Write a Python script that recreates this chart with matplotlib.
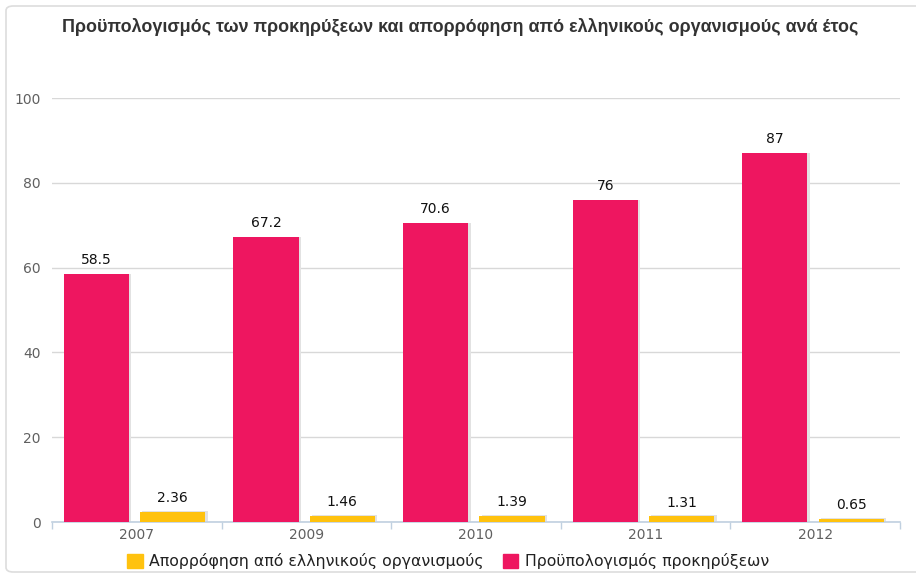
import numpy as np
import matplotlib.pyplot as plt
from matplotlib.patches import FancyBboxPatch

# ── data ──────────────────────────────────────────────
years = ['2007', '2009', '2010', '2011', '2012']
budget = [58.5, 67.2, 70.6, 76, 87]            # Προϋπολογισμός προκηρύξεων
absorption = [2.36, 1.46, 1.39, 1.31, 0.65]    # Απορρόφηση από ελληνικούς οργανισμούς
yticks = [0, 20, 40, 60, 80, 100]

PINK = '#EE1660'
YELLOW = '#FFC20E'
GRID = '#D8D8D8'
AXIS = '#C0D0E0'
TICKC = '#606060'

fig = plt.figure(figsize=(9.16, 5.74), dpi=100)
fig.patch.set_facecolor('white')

# outer rounded frame
frame = FancyBboxPatch((6 / 916, 2 / 574), 940 / 916, 566 / 574,
                       boxstyle='round,pad=0,rounding_size=0.008',
                       transform=fig.transFigure, facecolor='none',
                       edgecolor='#DDDDDD', lw=1.2)
fig.patches.append(frame)

ax = fig.add_axes([52 / 916, 52 / 574, 848 / 916, 424 / 574])
x = np.arange(len(years))
w = 0.385
off_p, off_y = -0.238, 0.212
sh = 0.014

# shadows
ax.bar(x + off_p + sh, budget, w, color='#E2E2E2', zorder=2)
ax.bar(x + off_y + sh, [v + 0.25 for v in absorption], w, color='#E2E2E2', zorder=2)

ax.bar(x + off_p, budget, w, color=PINK, zorder=3)
ax.bar(x + off_y, absorption, w, color=YELLOW, zorder=3)

for xi, v in zip(x, budget):
    ax.text(xi + off_p, v + 1.6, f'{v:g}', ha='center', va='bottom',
            fontsize=10, color='#111111')
for xi, v in zip(x, absorption):
    ax.text(xi + off_y, v + 1.6, f'{v:g}', ha='center', va='bottom',
            fontsize=10, color='#111111')

ax.set_xlim(-0.5, len(years) - 0.5)
ax.set_ylim(0, 100)
ax.set_yticks(yticks)
ax.set_yticklabels([str(t) for t in yticks], color=TICKC, fontsize=10)
ax.tick_params(axis='y', length=0, pad=8)
ax.grid(axis='y', color=GRID, lw=1, zorder=0)
ax.set_axisbelow(True)

ax.set_xticks(x)
ax.set_xticklabels(years, color=TICKC, fontsize=10)
ax.tick_params(axis='x', length=0, pad=4)
ax.set_xticks(np.arange(-0.5, len(years)), minor=True)
ax.tick_params(axis='x', which='minor', length=5, color=AXIS, width=1)

for s in ['top', 'right', 'left']:
    ax.spines[s].set_visible(False)
ax.spines['bottom'].set_color(AXIS)
ax.spines['bottom'].set_linewidth(1.2)

fig.text(460 / 916, 1 - 27 / 574,
         'Προϋπολογισμός των προκηρύξεων και απορρόφηση από ελληνικούς οργανισμούς ανά έτος',
         ha='center', va='center', fontsize=12.9, fontweight='bold',
         family='Liberation Sans', color='#333333')

# legend
h1 = plt.Rectangle((0, 0), 1, 1, color=YELLOW)
h2 = plt.Rectangle((0, 0), 1, 1, color=PINK)
fig.legend([h1, h2], ['Απορρόφηση από ελληνικούς οργανισμούς', 'Προϋπολογισμός προκηρύξεων'],
           loc='center', bbox_to_anchor=(448 / 916, 1 - 561 / 574), ncol=2,
           frameon=False, fontsize=11.3, handlelength=1.0, handleheight=1.0,
           handletextpad=0.4, columnspacing=1.2, labelcolor='#222222')

fig.savefig('out.png', dpi=100, facecolor='white')
